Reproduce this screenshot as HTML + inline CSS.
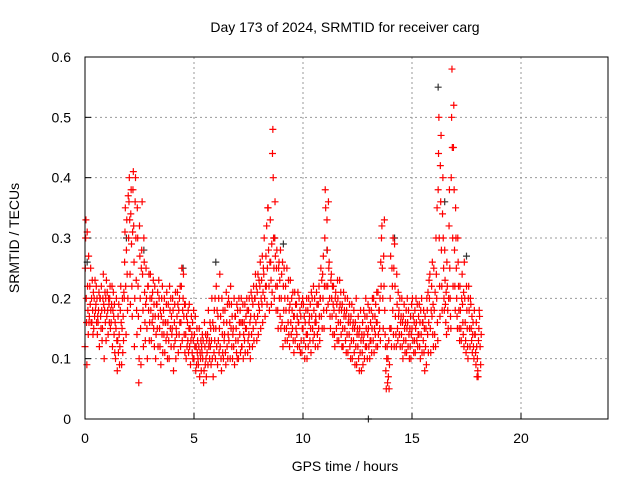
<!DOCTYPE html>
<html><head><meta charset="utf-8"><style>
body{margin:0;background:#fff}
svg{display:block;font-family:"Liberation Sans",sans-serif}
</style></head><body>
<svg id="c" width="640" height="480" viewBox="0 0 640 480">
<text x="345" y="32" font-size="14" text-anchor="middle">Day 173 of 2024, SRMTID for receiver carg</text>
<text x="345" y="471" font-size="14" text-anchor="middle">GPS time / hours</text>
<text transform="translate(19,238) rotate(-90)" font-size="14" text-anchor="middle">SRMTID / TECUs</text>
<g id="grid"></g><g id="pts"></g>
<rect x="85" y="57" width="523" height="362" fill="none" stroke="#000" stroke-width="1"/>
</svg>
<script>
const xTicks=[0,5,10,15,20];
const yTicks=[0,0.1,0.2,0.3,0.4,0.5,0.6];
const yTickLabels=["0","0.1","0.2","0.3","0.4","0.5","0.6"];
const groupTimes=[];for(let i=0;i<=90;i++)groupTimes.push(+(i*0.2).toFixed(1));
const groupValues=[
[.12,.25,.3,.33,.2,.16,.09],[.17,.22,.19,.25,.16],[.15,.2,.17,.23,.18],[.16,.18,.21,.12,.2],[.15,.2,.24,.19,.1],
[.17,.21,.18,.14,.2],[.16,.19,.22,.12,.18],[.1,.15,.2,.13,.08],[.12,.18,.22,.16,.09],[.2,.26,.31,.35,.22,.14],
[.3,.36,.4,.33,.24,.19],[.38,.41,.32,.26,.12,.2],[.35,.3,.22,.17,.06,.1],[.28,.36,.24,.18,.12],[.25,.2,.15,.1,.22],
[.24,.18,.13,.2,.16],[.22,.17,.1,.14,.19],[.2,.15,.12,.18,.09],[.18,.14,.2,.11,.16],[.16,.19,.13,.1,.22],
[.15,.2,.18,.08,.12],[.14,.17,.21,.19,.11],[.16,.22,.25,.13,.18],[.19,.14,.1,.17,.12],[.12,.15,.09,.13,.17],
[.1,.14,.12,.17,.08],[.09,.12,.15,.07,.11],[.1,.13,.06,.08,.16],[.11,.14,.09,.18,.12],[.13,.2,.1,.16,.07],
[.15,.22,.12,.18,.09],[.12,.17,.1,.08,.2],[.14,.18,.11,.09,.21],[.13,.19,.16,.1,.22],[.15,.12,.2,.09,.17],
[.18,.13,.1,.2,.16],[.12,.16,.19,.1,.14],[.15,.2,.18,.11,.13],[.17,.21,.14,.2,.12],[.2,.24,.16,.22,.13],
[.18,.22,.26,.15,.2],[.24,.3,.2,.17,.22],[.35,.28,.22,.18,.26],[.44,.48,.4,.3,.25,.2],[.28,.22,.18,.15,.25],
[.2,.24,.16,.26,.12],[.22,.18,.15,.25,.13],[.19,.23,.16,.14,.2],[.17,.21,.13,.19,.15],[.16,.2,.12,.18,.11],
[.15,.19,.13,.17,.1],[.14,.18,.12,.2,.16],[.17,.2,.15,.13,.22],[.16,.21,.19,.14,.12],[.2,.25,.17,.23,.15],
[.3,.38,.35,.22,.18],[.26,.2,.17,.15,.23],[.22,.18,.14,.12,.2],[.2,.16,.13,.18,.23],[.19,.15,.12,.21,.17],
[.18,.14,.2,.11,.16],[.17,.13,.19,.1,.15],[.16,.12,.2,.09,.14],[.15,.11,.18,.13,.08],[.14,.1,.17,.12,.2],
[.15,.12,.18,.1,.13],[.17,.13,.2,.11,.15],[.16,.12,.21,.14,.18],[.3,.32,.25,.2,.15],[.08,.05,.1,.12,.06],
[.2,.27,.15,.12,.25],[.29,.22,.17,.14,.12],[.18,.14,.2,.12,.16],[.17,.13,.19,.15,.11],[.16,.12,.18,.14,.1],
[.15,.2,.13,.17,.11],[.16,.13,.19,.12,.14],[.18,.14,.2,.11,.16],[.17,.12,.15,.09,.2],[.2,.24,.15,.11,.18],
[.25,.18,.14,.21,.12],[.38,.44,.5,.3,.22,.17],[.34,.4,.3,.25,.2,.18],[.26,.22,.18,.15,.2],[.4,.5,.58,.45,.3,.22],
[.35,.3,.25,.2,.17,.15],[.22,.18,.15,.13,.2],[.26,.2,.16,.13,.11],[.22,.18,.15,.12,.2],[.16,.12,.1,.18,.14],
[.1,.08,.07,.13,.15,.18]];
const groupTimes2=[];for(let i=0;i<=90;i++)groupTimes2.push(+(i*0.2+0.1).toFixed(1));
const groupValues2=[
[.31,.22,.18,.14,.27,.16],[.2,.16,.23,.18,.14,.21],[.19,.22,.16,.2,.14,.17],[.2,.17,.15,.22,.18,.13],[.18,.21,.16,.2,.13,.23],
[.19,.16,.2,.22,.15,.18],[.21,.17,.14,.19,.11,.16],[.13,.17,.11,.19,.14,.09],[.15,.2,.11,.17,.13,.21],[.28,.33,.24,.18,.2,.37],
[.34,.38,.29,.22,.17,.31],[.36,.4,.3,.23,.18,.14],[.32,.27,.2,.15,.09,.25],[.3,.26,.21,.16,.13,.19],[.22,.18,.24,.13,.16,.2],
[.21,.17,.23,.15,.19,.12],[.19,.15,.21,.12,.17,.23],[.17,.2,.14,.22,.11,.16],[.16,.13,.19,.21,.14,.1],[.18,.15,.2,.12,.17,.14],
[.16,.19,.13,.21,.1,.15],[.18,.14,.2,.16,.22,.12],[.2,.24,.17,.14,.19,.11],[.16,.13,.18,.11,.15,.19],[.14,.11,.16,.1,.13,.18],
[.12,.09,.15,.11,.13,.1],[.1,.13,.08,.12,.11,.14],[.12,.09,.14,.1,.07,.13],[.13,.1,.16,.12,.15,.09],[.15,.11,.18,.13,.2,.1],
[.17,.13,.2,.11,.15,.24],[.14,.11,.18,.1,.16,.13],[.16,.12,.19,.1,.14,.2],[.15,.19,.12,.17,.1,.14],[.17,.13,.15,.11,.19,.1],
[.14,.18,.11,.16,.2,.12],[.16,.13,.19,.11,.15,.17],[.18,.14,.2,.12,.16,.1],[.19,.15,.22,.13,.17,.2],[.21,.17,.24,.14,.19,.23],
[.23,.19,.27,.16,.21,.25],[.27,.22,.32,.19,.25,.35],[.33,.26,.23,.19,.29,.21],[.3,.36,.27,.22,.18,.25],[.26,.2,.23,.17,.28,.15],
[.22,.18,.25,.15,.2,.13],[.2,.16,.23,.14,.18,.12],[.18,.15,.21,.13,.17,.11],[.19,.14,.17,.12,.21,.16],[.17,.13,.19,.11,.15,.2],
[.16,.12,.18,.14,.2,.1],[.17,.13,.19,.15,.11,.21],[.18,.14,.2,.16,.12,.17],[.19,.15,.22,.17,.13,.2],[.24,.2,.27,.18,.15,.22],
[.33,.28,.22,.19,.36,.25],[.24,.2,.17,.22,.14,.19],[.21,.17,.15,.19,.13,.23],[.19,.16,.21,.14,.18,.12],[.18,.15,.2,.13,.17,.11],
[.17,.14,.19,.12,.16,.1],[.16,.13,.18,.11,.15,.09],[.15,.12,.17,.1,.14,.08],[.14,.11,.16,.09,.13,.18],[.15,.12,.17,.1,.14,.19],
[.16,.13,.18,.11,.15,.2],[.17,.14,.19,.12,.16,.21],[.18,.15,.2,.13,.26,.22],[.27,.22,.33,.18,.14,.12],[.1,.07,.13,.05,.09,.15],
[.22,.18,.3,.14,.25,.12],[.24,.19,.15,.13,.21,.17],[.17,.14,.2,.12,.16,.1],[.16,.13,.18,.11,.15,.2],[.15,.12,.17,.1,.14,.19],
[.16,.13,.18,.11,.15,.2],[.17,.14,.19,.12,.16,.1],[.16,.13,.18,.11,.15,.08],[.18,.14,.21,.11,.16,.23],[.22,.17,.26,.14,.19,.12],
[.3,.24,.2,.35,.16,.13],[.42,.36,.47,.28,.22,.18],[.28,.23,.19,.16,.21,.14],[.32,.38,.25,.2,.17,.15],[.45,.52,.38,.28,.22,.18],
[.3,.26,.22,.18,.15,.13],[.24,.19,.16,.14,.21,.12],[.22,.18,.15,.12,.1,.2],[.19,.15,.13,.17,.11,.14],[.14,.11,.09,.16,.12,.07],
[.17,.12,.09,.14]];
const blackTimes=[0.1,1.9,2.7,4.5,6.0,8.7,9.1,11.1,13.0,14.2,16.2,16.5,17.5];
const blackValues=[0.26,0.3,0.28,0.25,0.26,0.3,0.29,0.28,0.0,0.3,0.55,0.36,0.27];
const NS="http://www.w3.org/2000/svg";
const X=t=>85+t*(436/20), Y=v=>419-v*(362/0.6);
const grid=document.getElementById('grid'),pts=document.getElementById('pts');
function mk(tag,a,parent){const e=document.createElementNS(NS,tag);for(const k in a)e.setAttribute(k,a[k]);parent.appendChild(e);return e;}
xTicks.forEach((t,i)=>{
 if(t>0){const l=mk('line',{x1:X(t),x2:X(t),y1:57,y2:419,stroke:'#999','stroke-dasharray':'2,3'},grid);
 }
 const tk=mk('line',{x1:X(t),x2:X(t),y1:419,y2:413,stroke:'#000'},grid);
 
 const tx=mk('text',{x:X(t),y:443,'font-size':14,'text-anchor':'middle'},grid);tx.textContent=t;
 
});
yTicks.forEach((v,i)=>{
 if(v>0&&v<0.6){const l=mk('line',{x1:85,x2:608,y1:Y(v),y2:Y(v),stroke:'#999','stroke-dasharray':'2,3'},grid);
 }
 const tk=mk('line',{x1:85,x2:91,y1:Y(v),y2:Y(v),stroke:'#000'},grid);
 
 const tx=mk('text',{x:71,y:Y(v)+5,'font-size':14,'text-anchor':'end'},grid);tx.textContent=yTickLabels[i];
 
});
function cross(x,y,c){return mk('path',{d:`M${x-3.5},${y}h7M${x},${y-3.5}v7`,stroke:c,'stroke-width':1.2,fill:'none'},pts);}
blackTimes.forEach((t,i)=>{const p=cross(X(t),Y(blackValues[i]),'#333');
 });
function drawGroups(times,values){times.forEach((t,i)=>{const vs=values[i]||[];vs.forEach((v,j)=>{
 const p=cross(X(t+j*0.1/vs.length),Y(v),'#f00');
 });});}
drawGroups(groupTimes,groupValues);
drawGroups(groupTimes2,groupValues2);
</script>
</body></html>
